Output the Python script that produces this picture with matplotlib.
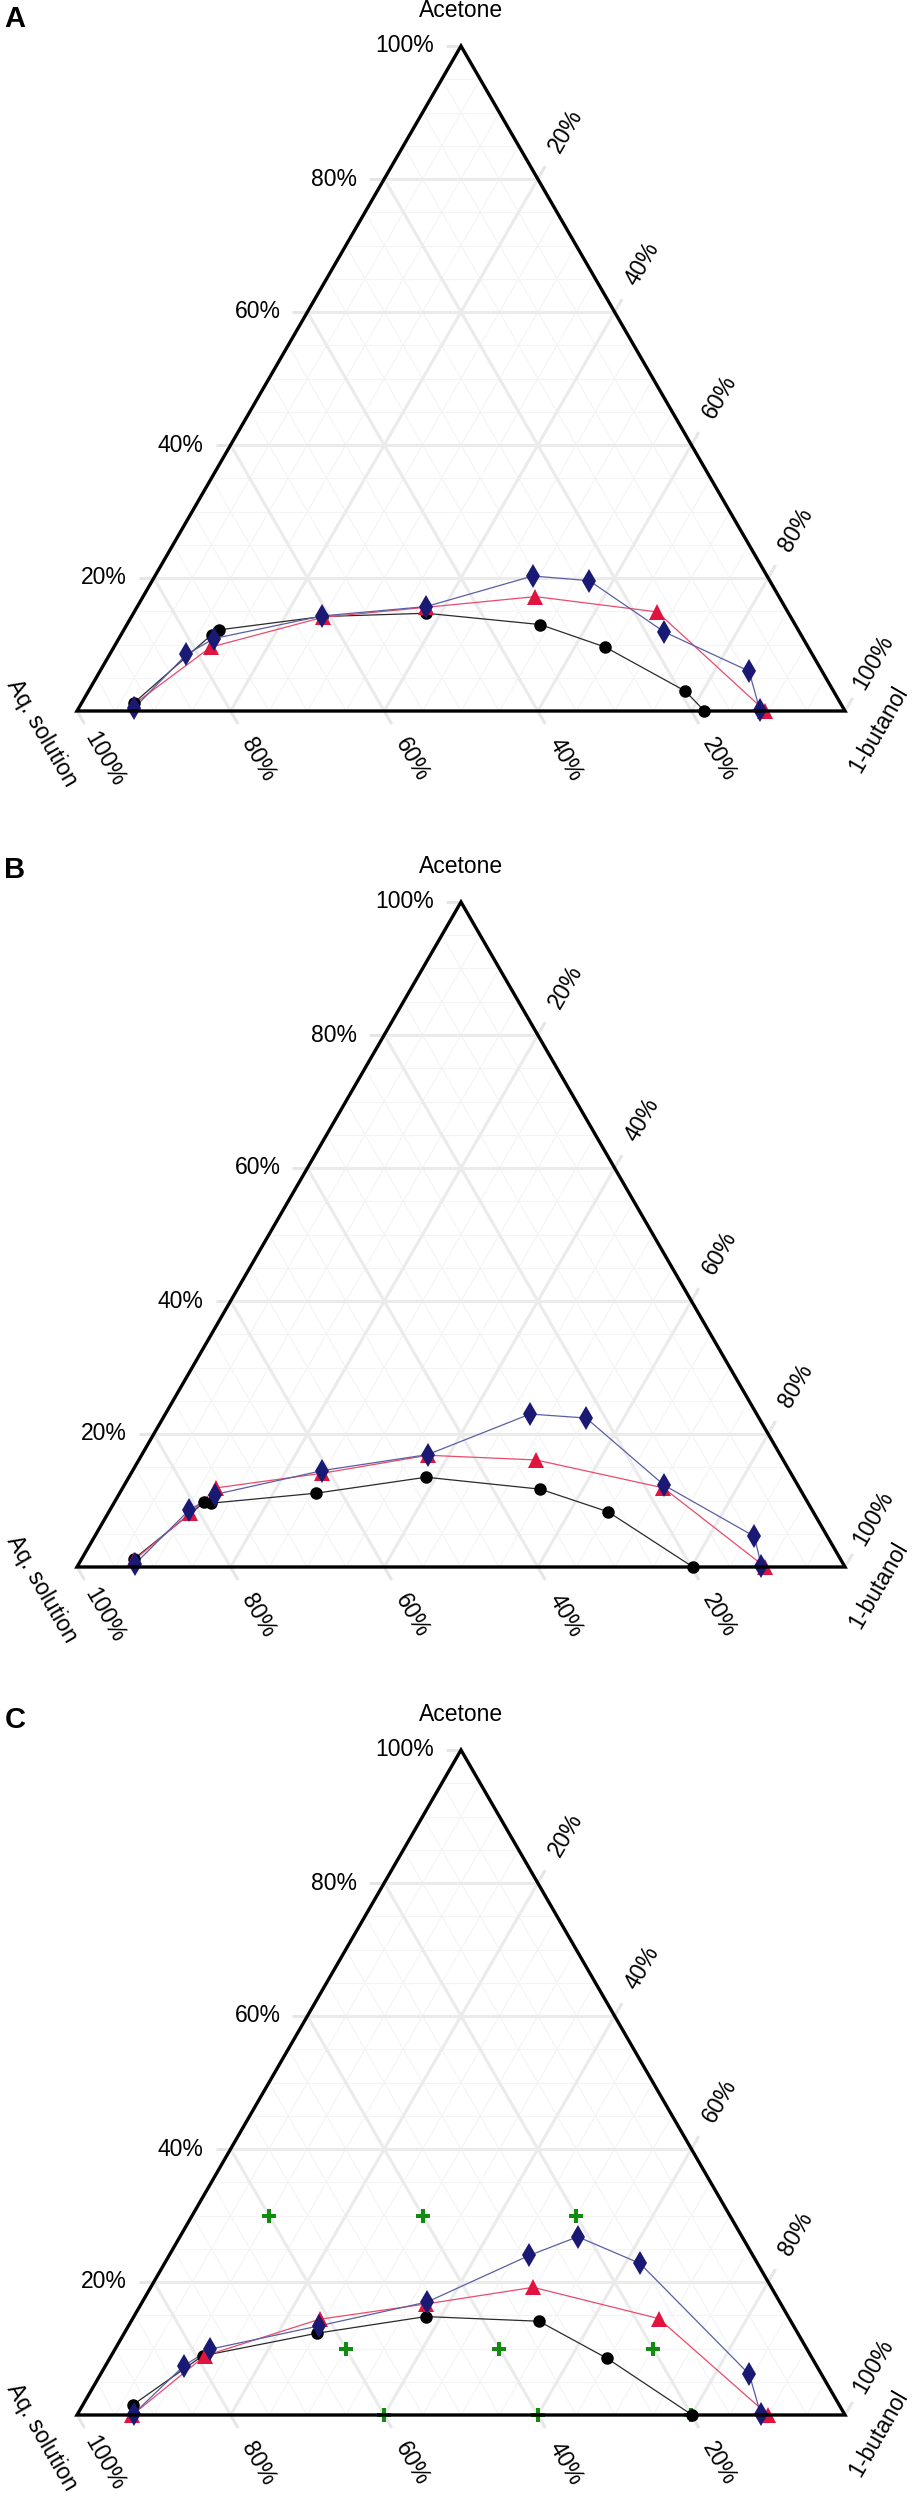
import numpy as np
import matplotlib.pyplot as plt
from matplotlib.patches import Polygon

plt.rcParams['font.family'] = ['Liberation Sans', 'DejaVu Sans']

# compositions in %, acetone and 1-butanol (aq. solution = the rest)
# panel A
A_circ_acet = [1.2, 11.5, 12.2, 14.2, 14.7, 13.0, 9.6, 3.0, 0.0]
A_circ_but = [6.8, 11.8, 12.4, 24.8, 38.1, 53.8, 64.0, 77.7, 81.7]
A_tri_acet = [1.0, 9.6, 14.1, 15.6, 17.2, 14.9, 0.0]
A_tri_but = [6.9, 12.6, 25.0, 37.7, 51.1, 68.1, 89.6]
A_dia_acet = [0.4, 8.5, 10.9, 14.3, 15.7, 20.3, 19.6, 11.9, 6.0, 0.2]
A_dia_but = [7.2, 10.0, 12.4, 24.8, 37.6, 49.2, 56.9, 70.5, 84.5, 88.8]

# panel B
B_circ_acet = [1.2, 9.7, 9.6, 11.1, 13.5, 11.7, 8.3, 0.0]
B_circ_but = [6.8, 11.7, 12.7, 25.6, 38.7, 54.5, 65.0, 80.2]
B_tri_acet = [1.0, 8.1, 11.9, 14.1, 16.8, 16.1, 11.9, 0.0]
B_tri_but = [6.9, 10.7, 12.2, 24.9, 37.3, 51.7, 70.4, 89.6]
B_dia_acet = [0.4, 8.5, 10.9, 14.5, 16.9, 23.0, 22.4, 12.3, 4.6, 0.2]
B_dia_but = [7.3, 10.3, 12.5, 24.7, 37.2, 47.5, 55.1, 70.3, 85.9, 89.0]

# panel C
C_circ_acet = [1.5, 8.9, 12.3, 14.8, 14.1, 8.5, 0.0]
C_circ_but = [6.5, 11.9, 25.1, 38.0, 53.1, 64.8, 80.1]
C_tri_acet = [0.0, 8.9, 14.4, 16.7, 19.2, 14.5, 0.0]
C_tri_but = [7.2, 12.2, 24.4, 37.1, 49.8, 68.5, 90.0]
C_dia_acet = [0.2, 7.4, 9.9, 13.4, 17.0, 24.0, 26.8, 22.8, 6.1, 0.2]
C_dia_but = [7.3, 10.2, 12.4, 24.8, 37.1, 46.9, 51.8, 61.9, 84.5, 88.9]
C_feed_acet = [30, 30, 30, 10, 10, 10, 0, 0, 0]
C_feed_but = [10, 30, 50, 30, 50, 70, 40, 60, 80]

tick_vals = [20, 40, 60, 80, 100]
tick_labels = ['20%', '40%', '60%', '80%', '100%']

H = np.sqrt(3) / 2
PX = 1 / 768  # one pixel in data units


def to_xy(acet, but):
    acet = np.asarray(acet) / 100
    but = np.asarray(but) / 100
    return but + acet / 2, acet * H


def panel(ax, curves, feed=None):
    ax.set_xlim(0, 1)
    ax.set_ylim(0, H)
    ax.axis('off')

    # grid: major every 20 %, minor every 5 %
    for v in np.arange(5, 100, 5) / 100:
        if round(v * 100) % 20 == 0:
            kw = dict(color='#ebebeb', lw=2.2, zorder=1, solid_capstyle='butt')
        else:
            kw = dict(color='#f4f4f4', lw=0.8, zorder=0.5)
        ax.plot([v / 2, 1 - v / 2], [v * H, v * H], **kw)
        ax.plot([v, v + (1 - v) / 2], [0, (1 - v) * H], **kw)
        ax.plot([1 - v, (1 - v) / 2], [0, (1 - v) * H], **kw)

    tk = dict(color='#e6e6e6', lw=2.2, clip_on=False, zorder=1, solid_capstyle='butt')
    L = 15 * PX
    D = 56 * PX
    for t, lab in zip(tick_vals, tick_labels):
        t = t / 100
        # acetone (left side)
        x0, y0 = t / 2, t * H
        ax.plot([x0, x0 - L], [y0, y0], **tk)
        ax.text(x0 - 27 * PX, y0, lab, ha='right', va='center', fontsize=16.5)
        # aq. solution (bottom)
        x0, y0 = 1 - t, 0
        ax.plot([x0, x0 + 0.5 * L], [y0, y0 - H * L], **tk)
        ax.text(x0 + 0.5 * D, y0 - H * D, lab, ha='center', va='center',
                rotation=-60, rotation_mode='anchor', fontsize=16.5)
        # 1-butanol (right side)
        x0, y0 = t + (1 - t) / 2, (1 - t) * H
        ax.plot([x0, x0 + 0.5 * L], [y0, y0 + H * L], **tk)
        ax.text(x0 + 0.5 * D, y0 + H * D, lab, ha='center', va='center',
                rotation=60, rotation_mode='anchor', fontsize=16.5)

    ax.text(0.5, H + 36 * PX, 'Acetone', ha='center', va='center', fontsize=16.5)
    ax.text(-35 * PX, -22 * PX, 'Aq. solution', ha='center', va='center',
            rotation=-60, rotation_mode='anchor', fontsize=16.5)
    ax.text(1 + 33 * PX, -18 * PX, '1-butanol', ha='center', va='center',
            rotation=60, rotation_mode='anchor', fontsize=16.5)

    ax.add_patch(Polygon([[0, 0], [1, 0], [0.5, H]], closed=True, fill=False,
                         ec='black', lw=2.4, joinstyle='miter', zorder=10,
                         clip_on=False))

    if feed is not None:
        x, y = to_xy(*feed)
        ax.plot(x, y, 'P', color='#118c11', ms=10, mew=0, ls='none',
                zorder=3, clip_on=False)

    (ca, cb), (ta, tb), (da, db) = curves
    x, y = to_xy(ca, cb)
    ax.plot(x, y, '-', color='#2a2a2a', lw=0.9, zorder=4, clip_on=False)
    ax.plot(x, y, 'o', color='black', ms=9, mew=0, ls='none', zorder=5, clip_on=False)
    x, y = to_xy(ta, tb)
    ax.plot(x, y, '-', color='#ec4a6c', lw=0.9, zorder=4, clip_on=False)
    ax.plot(x, y, '^', color='#e0143f', ms=11, mew=0, ls='none', zorder=5, clip_on=False)
    x, y = to_xy(da, db)
    ax.plot(x, y, '-', color='#5a5fa2', lw=0.9, zorder=4, clip_on=False)
    ax.plot(x, y, 'd', color='#1a1a75', ms=12, mew=0, ls='none', zorder=5, clip_on=False)


fig = plt.figure(figsize=(9.13, 25), dpi=100)
W, HF = 913, 2500
for base, letter, ly, curves, feed in [
        (711, 'A', 19, [(A_circ_acet, A_circ_but), (A_tri_acet, A_tri_but), (A_dia_acet, A_dia_but)], None),
        (1567, 'B', 870, [(B_circ_acet, B_circ_but), (B_tri_acet, B_tri_but), (B_dia_acet, B_dia_but)], None),
        (2415, 'C', 1720, [(C_circ_acet, C_circ_but), (C_tri_acet, C_tri_but), (C_dia_acet, C_dia_but)],
         (C_feed_acet, C_feed_but))]:
    ax = fig.add_axes([77 / W, (HF - base) / HF, 768 / W, 665 / HF])
    panel(ax, curves, feed)
    fig.text(15 / W, 1 - ly / HF, letter, ha='center', va='center',
             fontsize=21, fontweight='bold')

fig.savefig('out.png', dpi=100)
